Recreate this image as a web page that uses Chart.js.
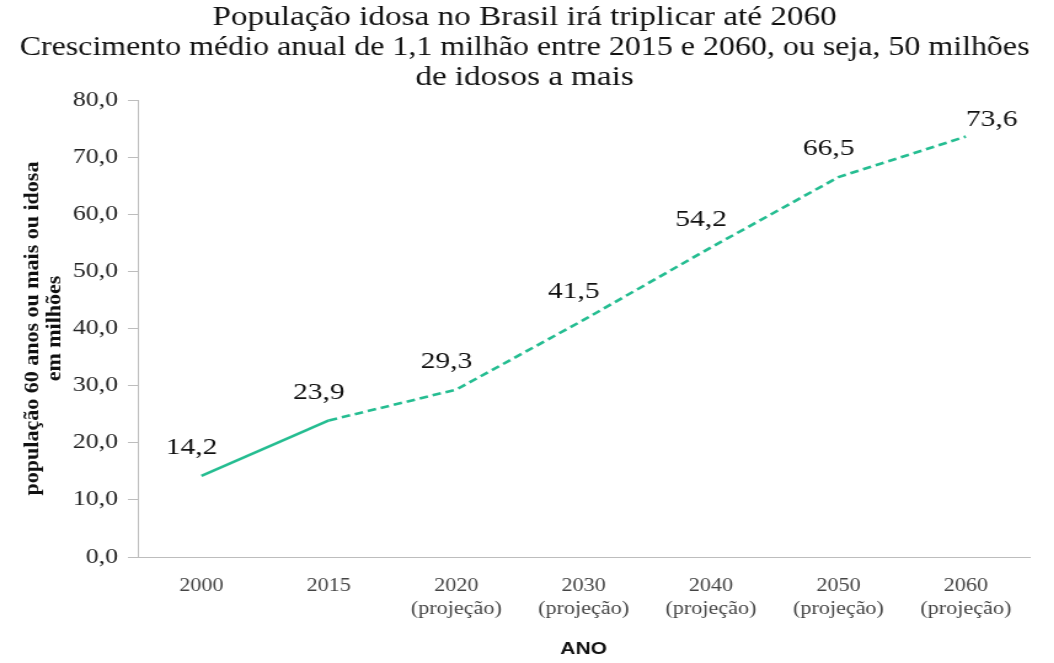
<!DOCTYPE html>
<html lang="pt-BR">
<head>
<meta charset="utf-8">
<script src="https://cdn.jsdelivr.net/npm/chart.js@4.4.1/dist/chart.umd.min.js"></script>
<style>
  html, body { margin: 0; padding: 0; background: #fff; overflow: hidden; }
  /* a figura original está esticada na horizontal */
  #wrap { width: 857px; height: 663px; transform: scaleX(1.23); transform-origin: 0 0; }
</style>
</head>
<body>
<div id="wrap"><canvas id="grafico"></canvas></div>
<script>
// dados do gráfico
const anos = ["2000", "2015", "2020", "2030", "2040", "2050", "2060"];
const projecao = [false, false, true, true, true, true, true];
const populacao = [14.2, 23.9, 29.3, 41.5, 54.2, 66.5, 73.6];
const titulo = [
  "População idosa no Brasil irá triplicar até 2060",
  "Crescimento médio anual de 1,1 milhão entre 2015 e 2060, ou seja, 50 milhões",
  "de idosos a mais"
];
const tituloY = ["população 60 anos ou mais ou idosa", "em milhões"];
const tituloX = "ANO";

const serif = "'Liberation Serif', 'Times New Roman', serif";
const corLinha = "#25bd91";

// rótulos do eixo x (ano + "(projeção)" quando for o caso)
const rotulos = anos.map((a, i) => projecao[i] ? [a, "(projeção)"] : a);

const fmt = (v) => v.toFixed(1).replace(".", ",");

// valores escritos acima dos pontos
const rotulosValores = {
  id: "rotulosValores",
  afterDatasetsDraw(chart) {
    const ctx = chart.ctx;
    const meta = chart.getDatasetMeta(0);
    ctx.save();
    ctx.font = "24px " + serif;
    ctx.fillStyle = "#111";
    ctx.textBaseline = "middle";
    meta.data.forEach((pt, i) => {
      const ultimo = i === meta.data.length - 1;
      ctx.textAlign = ultimo ? "left" : "center";
      const x = ultimo ? pt.x : pt.x - 8;
      const y = ultimo ? pt.y - 17 : pt.y - 28;
      ctx.fillText(fmt(populacao[i]), x, y);
    });
    ctx.restore();
  }
};

// título do eixo y desenhado à mão (texto girado e um pouco mais estreito)
const tituloEixoY = {
  id: "tituloEixoY",
  afterDraw(chart) {
    const ctx = chart.ctx;
    const area = chart.chartArea;
    const cy = (area.top + area.bottom) / 2;
    ctx.save();
    ctx.font = "bold 22px " + serif;
    ctx.fillStyle = "#111";
    ctx.textAlign = "center";
    ctx.textBaseline = "middle";
    tituloY.forEach((linha, i) => {
      ctx.save();
      ctx.translate(area.left - 85 + i * 18, cy);
      ctx.rotate(-Math.PI / 2);
      ctx.scale(1, 0.78);
      ctx.fillText(linha, 0, 0);
      ctx.restore();
    });
    ctx.restore();
  }
};

const chart = new Chart(document.getElementById("grafico"), {
  type: "line",
  data: {
    labels: rotulos,
    datasets: [{
      data: populacao,
      borderColor: corLinha,
      borderWidth: 2.6,
      pointRadius: 0,
      tension: 0,
      segment: {
        borderDash: (c) => projecao[c.p1DataIndex] ? [7, 4] : undefined
      }
    }]
  },
  options: {
    responsive: true,
    maintainAspectRatio: false,
    animation: false,
    layout: { padding: { left: 16, right: 20, top: 0, bottom: 0 } },
    plugins: {
      legend: { display: false },
      tooltip: { enabled: false },
      title: {
        display: true,
        text: titulo,
        color: "#111",
        font: { family: serif, size: 27, weight: "normal", lineHeight: "30px" },
        padding: { top: 3, bottom: 7 }
      }
    },
    scales: {
      x: {
        offset: true,
        grid: { display: false, drawTicks: false },
        border: { display: true, color: "#bdbdbd", width: 1 },
        ticks: {
          color: "#444",
          font: { family: serif, size: 18, lineHeight: "23px" },
          padding: 18,
          maxRotation: 0,
          autoSkip: false
        },
        title: {
          display: true,
          text: tituloX,
          color: "#111",
          font: { family: "'Liberation Sans', Arial, sans-serif", size: 17, weight: "bold", lineHeight: 1.2 },
          padding: { top: 0, bottom: 3 }
        },
        afterFit: (s) => { s.height = 106; }
      },
      y: {
        min: 0,
        max: 80,
        ticks: {
          stepSize: 10,
          color: "#222",
          font: { family: serif, size: 21 },
          padding: 8,
          callback: (v) => fmt(v)
        },
        grid: { drawOnChartArea: false, tickLength: 8, color: "#bdbdbd" },
        border: { display: true, color: "#bdbdbd", width: 1 },
        afterFit: (s) => { s.width = 96; }
      }
    }
  },
  plugins: [rotulosValores, tituloEixoY]
});
</script>
</body>
</html>
